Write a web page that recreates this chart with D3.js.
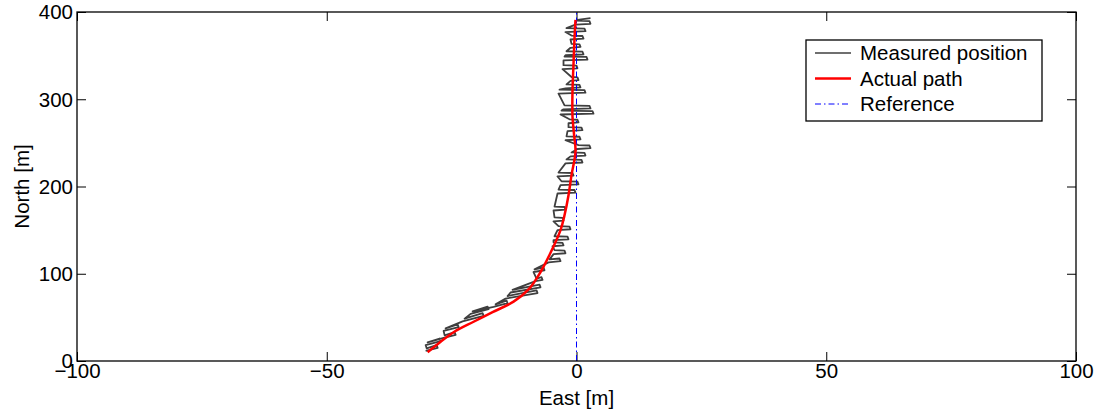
<!DOCTYPE html>
<html>
<head>
<meta charset="utf-8">
<script src="https://cdn.jsdelivr.net/npm/d3@7"></script>
<style>
  html, body { margin: 0; padding: 0; background: #fff; }
  svg { display: block; font-family: "Liberation Sans", Arial, Helvetica, sans-serif; }
</style>
</head>
<body>
<svg id="chart" width="1101" height="416"></svg>
<script>
// ---------------- data ----------------
const xDomain = [-100, 100];
const yDomain = [0, 400];
const xTicks = [-100, -50, 0, 50, 100];
const yTicks = [0, 100, 200, 300, 400];
const xLabel = "East [m]";
const yLabel = "North [m]";
const legendLabels = ["Measured position", "Actual path", "Reference"];

// Actual path (East, North)
const actualEast  = [-29.8, -27.2, -24.6, -20.6, -16.8, -12.6, -9.6, -7.2, -5.2, -3.2, -2.4, -1.6, -1.0, -0.2, -0.5, -0.8, -0.8, -0.6, -0.4, -0.2];
const actualNorth = [10, 22, 33, 45, 56, 68, 82, 102, 124, 150, 167, 190, 213, 240, 260, 280, 310, 340, 370, 391];

// Reference line (East, North)
const refEast  = [0, 0];
const refNorth = [0, 400];

// Measured position (East, North)
const measEast = [
  -30.2, -27.8, -28.0, -30.0,
  -30.2, -27.2, -27.4, -29.8,
  -26.6, -24.2, -24.4, -26.4,
  -26.6, -23.6, -23.8, -26.2,
  -22.8, -18.6, -18.8, -22.4,
  -21.2, -17.6, -17.8, -20.8,
  -16.6, -13.8, -14.0, -16.2,
  -14.2, -7.8, -8.0, -13.8,
  -13.2, -7.2, -7.4, -12.8,
  -8.2, -6.8, -7.0, -8.0,
  -8.6, -6.4, -6.6, -8.4,
  -5.6, -3.2, -3.4, -5.4,
  -4.6, -2.2, -2.4, -4.4,
  -4.8, -2.6, -2.8, -4.6,
  -4.6, -1.6, -1.8, -4.4,
  -3.8, -1.2, -1.4, -3.6,
  -4.6, -2.6, -2.8, -4.4,
  -4.6, -2.2, -2.4, -4.4,
  -3.8, -0.2, -0.4, -3.6,
  -3.2, 0.4, 0.2, -3.0,
  -3.8, -0.6, -0.8, -3.6,
  -2.2, 1.2, 1.0, -2.0,
  -1.2, 1.8, 1.6, -1.0,
  0.2, 2.8, 2.6, 0.4,
  -2.2, 0.8, 0.6, -2.0,
  -1.8, 1.2, 1.0, -1.6,
  -1.6, 0.4, 0.2, -1.4,
  -3.2, 3.4, 3.2, -3.0,
  -2.6, 2.8, 2.6, -2.4,
  -3.6, 1.8, 1.6, -3.4,
  -2.2, 0.8, 0.6, -2.0,
  -1.2, 0.4, 0.2, -1.0,
  -2.8, 0.2, 0.0, -2.6,
  -2.6, 2.2, 2.0, -2.4,
  -2.2, 1.4, 1.2, -2.0,
  -1.2, 0.8, 0.6, -1.0,
  -1.2, 1.4, 1.2, -1.0,
  -2.2, 1.8, 1.6, -2.0,
  -0.2, 2.8, 2.6, 0.0,
  0.2, 2.8
];
const measNorth = [
  11.5, 15.1, 18.1, 14.5,
  18.3, 22.8, 25.8, 21.3,
  26.4, 30.0, 33.0, 29.4,
  34.4, 38.9, 41.9, 37.4,
  45.5, 51.8, 54.8, 48.5,
  54.0, 59.4, 62.4, 57.0,
  62.0, 66.2, 69.2, 65.0,
  71.5, 77.9, 80.9, 74.5,
  78.5, 84.5, 87.5, 81.5,
  91.5, 93.0, 96.0, 94.5,
  102.0, 104.0, 107.0, 105.0,
  113.0, 114.5, 117.5, 116.5,
  122.5, 123.5, 126.5, 127.0,
  131.5, 132.5, 135.5, 136.0,
  138.5, 139.5, 142.5, 143.0,
  150.0, 151.0, 154.0, 154.5,
  160.0, 161.0, 164.0, 164.5,
  172.5, 173.5, 176.5, 177.0,
  192.0, 193.0, 196.0, 196.5,
  201.5, 202.5, 205.5, 206.0,
  211.5, 212.5, 215.5, 216.0,
  226.5, 227.5, 230.5, 231.0,
  234.5, 235.5, 238.5, 239.0,
  243.0, 244.0, 247.0, 247.5,
  253.0, 254.0, 257.0, 257.5,
  263.5, 264.5, 267.5, 268.0,
  272.5, 273.5, 276.5, 277.0,
  282.5, 283.5, 286.5, 287.0,
  288.5, 289.5, 292.5, 293.0,
  306.5, 307.5, 310.5, 311.0,
  312.5, 313.5, 316.5, 317.0,
  321.0, 322.0, 325.0, 325.5,
  334.5, 335.5, 338.5, 339.0,
  344.5, 345.5, 348.5, 349.0,
  350.5, 351.5, 354.5, 355.0,
  359.0, 360.0, 363.0, 363.5,
  368.5, 369.5, 372.5, 373.0,
  377.0, 378.0, 381.0, 381.5,
  385.5, 386.5, 389.5, 390.0,
  391.0, 393.0
];

// ---------------- chart ----------------
const svg = d3.select("#chart");
const plot = { left: 77, right: 1076, top: 12, bottom: 361 };

const x = d3.scaleLinear().domain(xDomain).range([plot.left, plot.right]);
const y = d3.scaleLinear().domain(yDomain).range([plot.bottom, plot.top]);

const fontSize = 20.5;

// axes
const tickLen = 9;
const gB = svg.append("g").attr("transform", `translate(0,${plot.bottom})`)
  .call(d3.axisBottom(x).tickValues(xTicks).tickSize(-tickLen).tickPadding(2).tickFormat(d3.format("")));
const gT = svg.append("g").attr("transform", `translate(0,${plot.top})`)
  .call(d3.axisTop(x).tickValues(xTicks).tickSize(-tickLen).tickFormat(""));
const gL = svg.append("g").attr("transform", `translate(${plot.left},0)`)
  .call(d3.axisLeft(y).tickValues(yTicks).tickSize(-tickLen).tickPadding(4).tickFormat(d3.format("")));
const gR = svg.append("g").attr("transform", `translate(${plot.right},0)`)
  .call(d3.axisRight(y).tickValues(yTicks).tickSize(-tickLen).tickFormat(""));

[gB, gT, gL, gR].forEach(g => {
  g.select(".domain").remove();
  g.selectAll(".tick line").attr("stroke", "#000").attr("stroke-width", 1);
  g.selectAll(".tick text").attr("fill", "#000").style("font-size", fontSize + "px")
    .style("font-family", '"Liberation Sans", Arial, sans-serif');
});
gB.selectAll(".tick text").attr("dy", "0.72em");
gL.selectAll(".tick text").attr("dy", "0.34em");

// clip
svg.append("clipPath").attr("id", "clip").append("rect")
  .attr("x", plot.left).attr("y", plot.top)
  .attr("width", plot.right - plot.left).attr("height", plot.bottom - plot.top);

const line = d3.line().x(d => x(d[0])).y(d => y(d[1]));
const smooth = d3.line().x(d => x(d[0])).y(d => y(d[1])).curve(d3.curveCatmullRom.alpha(0.5));

const meas = measEast.map((e, i) => [e, measNorth[i]]);
const actual = actualEast.map((e, i) => [e, actualNorth[i]]);
const ref = refEast.map((e, i) => [e, refNorth[i]]);

const gPlot = svg.append("g").attr("clip-path", "url(#clip)");

gPlot.append("path").datum(meas).attr("d", line)
  .attr("fill", "none").attr("stroke", "#3f3f3f").attr("stroke-width", 1.8)
  .attr("stroke-linejoin", "round");

gPlot.append("path").datum(ref).attr("d", line)
  .attr("fill", "none").attr("stroke", "#0000ff").attr("stroke-width", 1)
  .attr("stroke-dasharray", "6,3,1.5,3");

gPlot.append("path").datum(actual).attr("d", smooth)
  .attr("fill", "none").attr("stroke", "#ff0000").attr("stroke-width", 2.5)
  .attr("stroke-linejoin", "round");

// box
svg.append("rect")
  .attr("x", plot.left).attr("y", plot.top)
  .attr("width", plot.right - plot.left).attr("height", plot.bottom - plot.top)
  .attr("fill", "none").attr("stroke", "#000").attr("stroke-width", 1.3);

// axis labels
svg.append("text")
  .attr("x", (plot.left + plot.right) / 2).attr("y", 405)
  .attr("text-anchor", "middle").style("font-size", fontSize + "px")
  .text(xLabel);
svg.append("text")
  .attr("transform", `translate(29,${(plot.top + plot.bottom) / 2}) rotate(-90)`)
  .attr("text-anchor", "middle").style("font-size", fontSize + "px")
  .text(yLabel);

// legend
const leg = { x: 806, y: 40, w: 236, h: 81 };
const lg = svg.append("g");
lg.append("rect").attr("x", leg.x).attr("y", leg.y).attr("width", leg.w).attr("height", leg.h)
  .attr("fill", "#fff").attr("stroke", "#000").attr("stroke-width", 1.3);
const legStyles = [
  { stroke: "#3f3f3f", width: 1.5, dash: null },
  { stroke: "#ff0000", width: 2.5, dash: null },
  { stroke: "#0000ff", width: 1, dash: "6,3,1.5,3" }
];
const rowY = d3.scalePoint().domain(legendLabels).range([leg.y + 13, leg.y + 64]);
legendLabels.forEach((lab, i) => {
  const yy = rowY(lab);
  const ln = lg.append("line").attr("x1", leg.x + 9).attr("x2", leg.x + 45)
    .attr("y1", yy).attr("y2", yy)
    .attr("stroke", legStyles[i].stroke).attr("stroke-width", legStyles[i].width);
  if (legStyles[i].dash) ln.attr("stroke-dasharray", legStyles[i].dash);
  lg.append("text").attr("x", leg.x + 54).attr("y", yy).attr("dy", "0.35em")
    .style("font-size", fontSize + "px").text(lab);
});
</script>
</body>
</html>
